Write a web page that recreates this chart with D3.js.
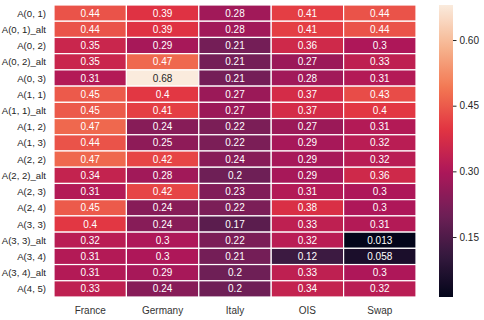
<!DOCTYPE html>
<html>
<head>
<meta charset="utf-8">
<script src="https://cdn.jsdelivr.net/npm/d3@7"></script>
<style>
  body { margin: 0; background: #fff; }
  text { font-family: "Liberation Sans", Arial, sans-serif; }
</style>
</head>
<body>
<div id="canvas"></div>
<script>
"use strict"

// DATA
let columns = ["France", "Germany", "Italy", "OIS", "Swap"];
let rows = ["A(0, 1)", "A(0, 1)_alt", "A(0, 2)", "A(0, 2)_alt", "A(0, 3)", "A(1, 1)", "A(1, 1)_alt",
  "A(1, 2)", "A(1, 3)", "A(2, 2)", "A(2, 2)_alt", "A(2, 3)", "A(2, 4)", "A(3, 3)", "A(3, 3)_alt",
  "A(3, 4)", "A(3, 4)_alt", "A(4, 5)"];
let values = [
  [0.44, 0.39, 0.28, 0.41, 0.44],
  [0.44, 0.39, 0.28, 0.41, 0.44],
  [0.35, 0.29, 0.21, 0.36, 0.3],
  [0.35, 0.47, 0.21, 0.27, 0.33],
  [0.31, 0.68, 0.21, 0.28, 0.31],
  [0.45, 0.4, 0.27, 0.37, 0.43],
  [0.45, 0.41, 0.27, 0.37, 0.4],
  [0.47, 0.24, 0.22, 0.27, 0.31],
  [0.44, 0.25, 0.22, 0.29, 0.32],
  [0.47, 0.42, 0.24, 0.29, 0.32],
  [0.34, 0.28, 0.2, 0.29, 0.36],
  [0.31, 0.42, 0.23, 0.31, 0.3],
  [0.45, 0.24, 0.22, 0.38, 0.3],
  [0.4, 0.24, 0.17, 0.33, 0.31],
  [0.32, 0.3, 0.22, 0.32, 0.013],
  [0.31, 0.3, 0.21, 0.12, 0.058],
  [0.31, 0.29, 0.2, 0.33, 0.3],
  [0.33, 0.24, 0.2, 0.34, 0.32]
];
let colorbarTicks = [0.15, 0.30, 0.45, 0.60];

// rocket colormap stops
let rocket = ["#03051a", "#35193e", "#701f57", "#ad1759", "#e13342", "#f37651", "#f6b48f", "#faebdd"];

let svgWidth = 484;
let svgHeight = 320;

let heatLeft = 54;
let heatRight = 416;
let heatTop = 5;
let heatBottom = 297;

let barLeft = 439;
let barWidth = 14;

let svg = d3.select("#canvas")
  .append("svg")
  .attr("width", svgWidth)
  .attr("height", svgHeight);

let cells = [];
for (let r = 0; r < rows.length; r++) {
  for (let c = 0; c < columns.length; c++) {
    cells.push({ row: rows[r], col: columns[c], value: values[r][c] });
  }
}

let vmin = d3.min(cells, d => d.value);
let vmax = d3.max(cells, d => d.value);

let rocketInterp = d3.piecewise(d3.interpolateRgb, rocket);
let colorScale = d3.scaleSequential(rocketInterp).domain([vmin, vmax]);

let xScale = d3.scaleBand().domain(columns).range([heatLeft, heatRight]);
let yScale = d3.scaleBand().domain(rows).range([heatTop, heatBottom]);

// cells
svg.selectAll("rect.cell")
  .data(cells)
  .join("rect")
  .attr("class", "cell")
  .attr("x", d => xScale(d.col))
  .attr("y", d => yScale(d.row))
  .attr("width", xScale.bandwidth())
  .attr("height", yScale.bandwidth())
  .attr("fill", d => colorScale(d.value))
  .attr("stroke", "white")
  .attr("stroke-width", 1.2);

// annotations - dark text only on light cells
function luminance(col) {
  let c = d3.rgb(col);
  let f = v => { v = v / 255; return v <= 0.03928 ? v / 12.92 : Math.pow((v + 0.055) / 1.055, 2.4); };
  return 0.2126 * f(c.r) + 0.7152 * f(c.g) + 0.0722 * f(c.b);
}

svg.selectAll("text.annot")
  .data(cells)
  .join("text")
  .attr("class", "annot")
  .attr("x", d => xScale(d.col) + xScale.bandwidth() / 2)
  .attr("y", d => yScale(d.row) + yScale.bandwidth() / 2)
  .attr("text-anchor", "middle")
  .attr("dominant-baseline", "central")
  .style("font-size", "10px")
  .attr("fill", d => luminance(colorScale(d.value)) > 0.408 ? "#262626" : "#ffffff")
  .text(d => String(d.value));

// row labels
svg.selectAll("text.rowlabel")
  .data(rows)
  .join("text")
  .attr("class", "rowlabel")
  .attr("x", heatLeft - 8)
  .attr("y", d => yScale(d) + yScale.bandwidth() / 2)
  .attr("text-anchor", "end")
  .attr("dominant-baseline", "central")
  .style("font-size", "9.6px")
  .attr("fill", "#262626")
  .text(d => d);

// column labels
svg.selectAll("text.collabel")
  .data(columns)
  .join("text")
  .attr("class", "collabel")
  .attr("x", d => xScale(d) + xScale.bandwidth() / 2)
  .attr("y", heatBottom + 13)
  .attr("text-anchor", "middle")
  .attr("dominant-baseline", "central")
  .style("font-size", "10px")
  .attr("fill", "#333")
  .text(d => d);

// COLORBAR
let barScale = d3.scaleLinear().domain([vmin, vmax]).range([heatBottom, heatTop]);

let defs = svg.append("defs");
let grad = defs.append("linearGradient")
  .attr("id", "cbar")
  .attr("x1", "0").attr("y1", "1")
  .attr("x2", "0").attr("y2", "0");
for (let i = 0; i <= 40; i++) {
  grad.append("stop")
    .attr("offset", (i / 40))
    .attr("stop-color", rocketInterp(i / 40));
}

svg.append("rect")
  .attr("x", barLeft)
  .attr("y", heatTop)
  .attr("width", barWidth)
  .attr("height", heatBottom - heatTop)
  .attr("fill", "url(#cbar)");

let barAxis = d3.axisRight(barScale)
  .tickValues(colorbarTicks)
  .tickFormat(d3.format(".2f"))
  .tickSize(3.5)
  .tickPadding(3);

let gBar = svg.append("g")
  .attr("transform", "translate(" + (barLeft + barWidth) + ",0)")
  .call(barAxis);
gBar.select(".domain").remove();
gBar.selectAll("line").attr("stroke", "#262626");
gBar.selectAll("text")
  .style("font-size", "10px")
  .style("font-family", "'Liberation Sans', Arial, sans-serif")
  .attr("fill", "#262626");
</script>
</body>
</html>
